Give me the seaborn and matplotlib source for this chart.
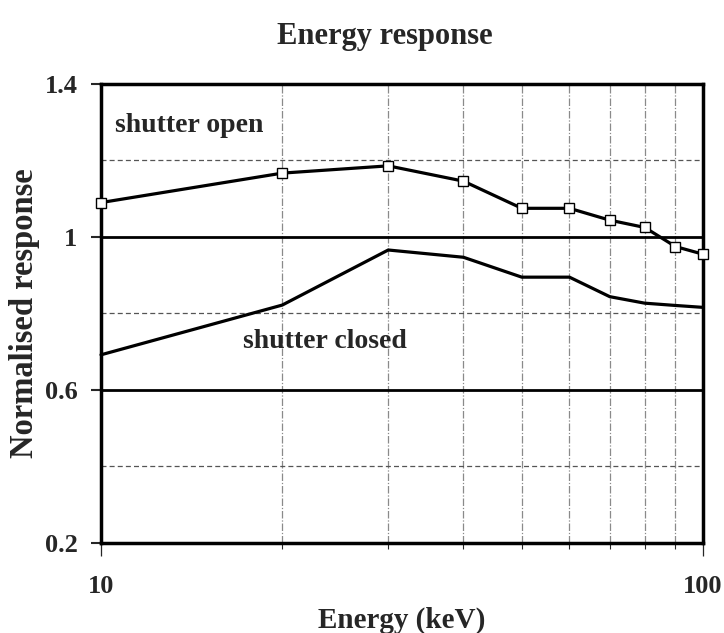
import matplotlib
matplotlib.use("Agg")
import matplotlib.pyplot as plt
from matplotlib.ticker import FixedLocator, NullFormatter, FixedFormatter
import numpy as np
import pandas as pd
import seaborn as sns

# Photon energies (keV) and normalised detector response
energy_kev = [10, 20, 30, 40, 50, 60, 70, 80, 90, 100]
shutter_open = [1.09, 1.167, 1.186, 1.146, 1.075, 1.075, 1.044, 1.025, 0.975, 0.955]
shutter_closed = [0.692, 0.822, 0.966, 0.947, 0.895, 0.895, 0.844, 0.827, 0.821, 0.816]

y_ticks = [0.2, 0.6, 1.0, 1.4]
y_tick_labels = ["0.2", "0.6", "1", "1.4"]
y_minor = [0.4, 0.8, 1.2]
x_ticks = [10, 100]
x_tick_labels = ["10", "100"]
x_minor = [20, 30, 40, 50, 60, 70, 80, 90]

df = pd.DataFrame({
    "energy": energy_kev * 2,
    "response": shutter_open + shutter_closed,
    "state": ["open"] * len(energy_kev) + ["closed"] * len(energy_kev),
})

sns.set_style("white")
plt.rcParams["font.family"] = ["Liberation Serif", "DejaVu Serif"]
plt.rcParams["font.weight"] = "bold"

fig = plt.figure(figsize=(7.24, 6.33), dpi=100)
ax = fig.add_axes([0.1395, 0.1422, 0.8315, 0.7251])

ax.set_xscale("log")
ax.set_xlim(10, 100)
ax.set_ylim(0.2, 1.4)

# grid: thin vertical lines at the decade subdivisions
for xv in x_minor:
    ax.axvline(xv, color="#8a8a8a", lw=0.9, ls=(0, (6, 1.5, 1, 1.5)), zorder=1)
for yv in y_minor:
    ax.axhline(yv, color="#555555", lw=0.9, ls=(0, (4, 2.5)), zorder=1)
for yv in [0.6, 1.0]:
    ax.axhline(yv, color="black", lw=2.0, zorder=2)

sns.lineplot(data=df[df.state == "open"], x="energy", y="response", ax=ax,
             color="black", lw=2.3, marker="s", markersize=7.5,
             markerfacecolor="white", markeredgecolor="black",
             markeredgewidth=1.0, zorder=4, legend=False, clip_on=False)
sns.lineplot(data=df[df.state == "closed"], x="energy", y="response", ax=ax,
             color="black", lw=2.3, zorder=3, legend=False, clip_on=False)

for s in ax.spines.values():
    s.set_visible(True)
    s.set_color("black")
    s.set_linewidth(2.5)

ax.xaxis.set_major_locator(FixedLocator(x_ticks))
ax.xaxis.set_major_formatter(FixedFormatter(x_tick_labels))
ax.xaxis.set_minor_locator(FixedLocator(x_minor))
ax.xaxis.set_minor_formatter(NullFormatter())
ax.yaxis.set_major_locator(FixedLocator(y_ticks))
ax.yaxis.set_major_formatter(FixedFormatter(y_tick_labels))
ax.yaxis.set_minor_locator(FixedLocator(y_minor))

ax.tick_params(axis="x", which="major", direction="out", length=9, width=0.9,
               pad=14, labelsize=19, bottom=True)
ax.tick_params(axis="x", which="minor", direction="out", length=4, width=0.8,
               bottom=True)
ax.tick_params(axis="y", which="major", direction="out", length=7, width=1.5,
               pad=10, labelsize=19, left=True)
ax.tick_params(axis="y", which="minor", length=0)
for lab in ax.get_xticklabels() + ax.get_yticklabels():
    lab.set_fontweight("bold")

ax.set_xlabel("Energy (keV)", fontsize=21, fontweight="bold", labelpad=6)
ax.set_ylabel("Normalised response", fontsize=23.5, fontweight="bold", labelpad=3)
fig.text(0.532, 0.943, "Energy response", fontsize=22, fontweight="bold",
         ha="center", va="center")

ax.text(0.023, 0.91, "shutter open", transform=ax.transAxes, fontsize=20,
        fontweight="bold", va="center", ha="left")
ax.text(0.236, 0.44, "shutter closed", transform=ax.transAxes, fontsize=20,
        fontweight="bold", va="center", ha="left")

fig.savefig("out.png", dpi=100)
